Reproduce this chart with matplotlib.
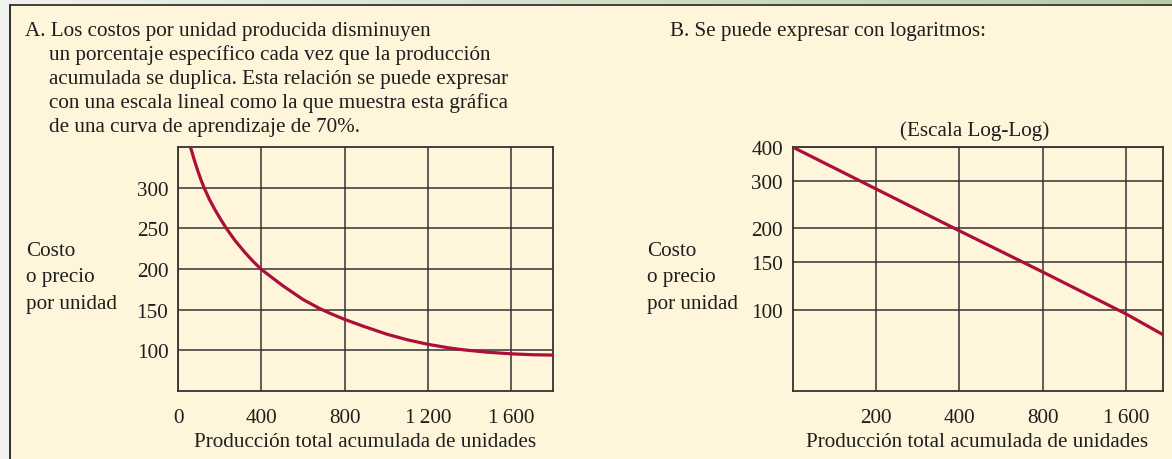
# -*- encoding: utf-8 -*-
"""Curva de aprendizaje del 70%: escala lineal y escala log-log."""
import matplotlib

matplotlib.use("Agg")
import matplotlib.pyplot as plt
import numpy as np
from matplotlib.patches import Rectangle
from matplotlib.ticker import NullLocator

unidades_a = [61, 77, 96, 109, 125, 152, 176, 205, 232, 272, 320, 360, 400, 500, 600, 683,
              730, 800, 891, 1003, 1100, 1200, 1300, 1371, 1480, 1600, 1700, 1795]
costo_a = [349, 335, 320, 310.5, 300, 285, 273.5, 261, 250, 235.6, 220.7, 209.5, 199.5, 180, 162.5, 151,
           145.5, 138, 129.5, 119.8, 113, 107.4, 103, 100.6, 97.8, 95.7, 94.6, 94.2]
xticks_a = [0, 400, 800, 1200, 1600]
xlabels_a = ["0", "400", "800", "1\u2009200", "1\u2009600"]
yticks_a = [100, 150, 200, 250, 300]

unidades_b = [100, 200, 400, 800, 1600, 2170]
costo_b = [400, 280, 196, 138, 96.5, 81]
xticks_b = [200, 400, 800, 1600]
xlabels_b = ["200", "400", "800", "1\u2009600"]
yticks_b = [100, 150, 200, 300, 400]

titulo_a = [
    "A. Los costos por unidad producida disminuyen",
    "un porcentaje específico cada vez que la producción",
    "acumulada se duplica. Esta relación se puede expresar",
    "con una escala lineal como la que muestra esta gráfica",
    "de una curva de aprendizaje de 70%.",
]
titulo_b = "B. Se puede expresar con logaritmos:"
ylabel_lines = ["Costo", "o precio", "por unidad"]
xlabel = "Producción total acumulada de unidades"

W, H = 1172, 460
CREAM = "#fff5da"
RED = "#ab1038"
GRID = "#333333"
FS = 15.2
plt.rcParams["font.family"] = ["Liberation Serif", "DejaVu Serif"]
plt.rcParams["text.color"] = "#1e1e1e"

fig = plt.figure(figsize=(W / 100, H / 100), dpi=100)
fig.patch.set_facecolor(CREAM)

# marco de fondo en pixeles
bg = fig.add_axes([0, 0, 1, 1], zorder=-10)
bg.axis("off")
grad = np.linspace(0, 1, 256).reshape(1, -1)
c0 = np.array([0.94, 0.95, 0.93])
c1 = np.array([0.72, 0.80, 0.64])
img = c0[None, None, :] * (1 - grad[..., None]) + c1[None, None, :] * grad[..., None]
bg.imshow(img, extent=[0, W, 5, 0], aspect="auto")
bg.add_patch(Rectangle((0, 5), 9, H, color="#f1f3f1", lw=0))
bg.add_patch(Rectangle((9, 5), W, 2, color="#444444", lw=0))
bg.add_patch(Rectangle((9, 5), 1.6, H, color="#333333", lw=0))
bg.set_xlim(0, W)
bg.set_ylim(H, 0)


def px(x, y):
    return x / W, 1 - y / H


def style(ax):
    ax.set_facecolor(CREAM)
    ax.grid(True, color=GRID, lw=1.1)
    ax.set_axisbelow(True)
    for s in ax.spines.values():
        s.set_color(GRID)
        s.set_linewidth(1.3)
    ax.tick_params(length=0, labelsize=FS, colors="#1e1e1e")
    ax.tick_params(axis="x", pad=12)
    ax.tick_params(axis="y", pad=7)


# --- grafica A ---
ax1 = fig.add_axes([178 / W, 68 / H, 375 / W, 244 / H])
style(ax1)
ax1.plot(unidades_a, costo_a, color=RED, lw=2.3, zorder=3, solid_joinstyle="round")
ax1.set_xlim(0, 1800)
ax1.set_ylim(50, 350)
ax1.set_xticks(xticks_a)
ax1.set_xticklabels(xlabels_a)
ax1.set_yticks(yticks_a)

# --- grafica B ---
ax2 = fig.add_axes([792.5 / W, 68 / H, 370 / W, 244 / H])
style(ax2)
ax2.set_xscale("log")
ax2.set_yscale("log")
ax2.plot(unidades_b, costo_b, color=RED, lw=2.3, zorder=3)
ax2.set_xlim(100, 2170)
ax2.set_ylim(50, 400)
ax2.set_xticks(xticks_b)
ax2.set_xticklabels(xlabels_b)
ax2.set_yticks(yticks_b)
ax2.set_yticklabels([str(v) for v in yticks_b])
ax2.xaxis.set_minor_locator(NullLocator())
ax2.yaxis.set_minor_locator(NullLocator())

# textos
fig.text(*px(25, 36), titulo_a[0], fontsize=FS, va="baseline")
for i, line in enumerate(titulo_a[1:]):
    fig.text(*px(49, 60 + 24 * i), line, fontsize=FS, va="baseline")
fig.text(*px(670, 36), titulo_b, fontsize=FS, va="baseline")
fig.text(*px(975, 136), "(Escala Log-Log)", fontsize=FS, va="baseline", ha="center")

for x0 in (26, 647):
    for i, line in enumerate(ylabel_lines):
        fig.text(*px(x0, 256 + 26.5 * i), line, fontsize=FS, va="baseline")

fig.text(*px(365, 447), xlabel, fontsize=FS, va="baseline", ha="center")
fig.text(*px(977, 447), xlabel, fontsize=FS, va="baseline", ha="center")

fig.savefig("out.png", dpi=100, facecolor=fig.get_facecolor())
